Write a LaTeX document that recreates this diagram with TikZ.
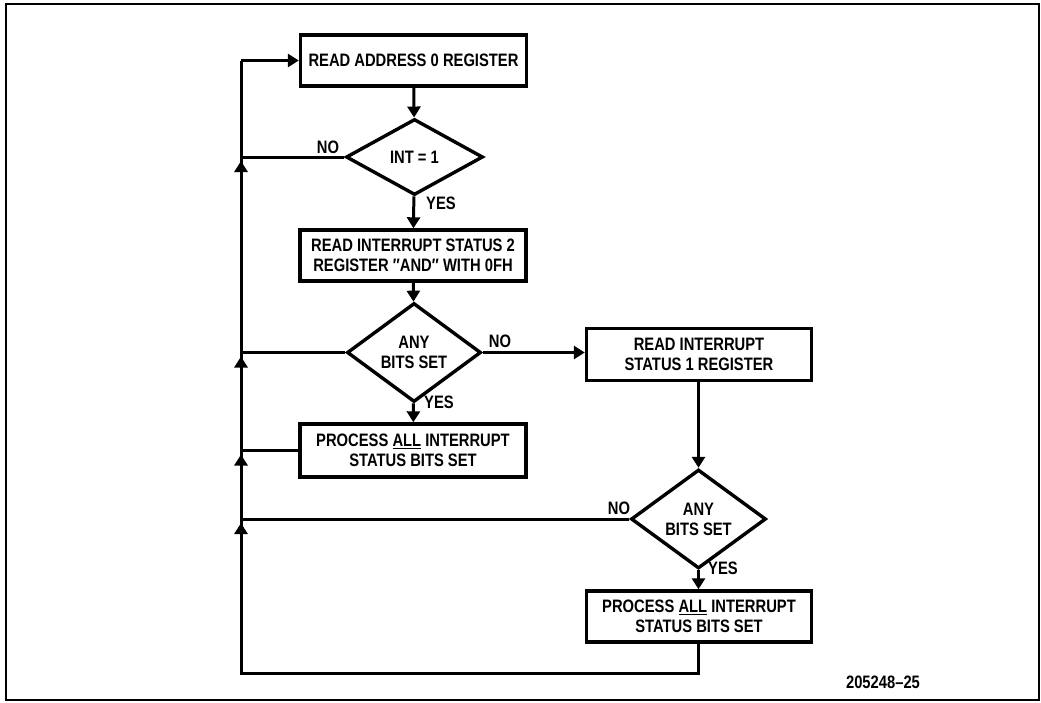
\documentclass[tikz,border=0pt]{standalone}
\usepackage{fontspec}
\setmainfont{Liberation Sans}[FakeStretch=0.82]
\usetikzlibrary{shapes.geometric,arrows.meta}
\begin{document}
\begin{tikzpicture}[x=1pt,y=-1pt,
  font=\fontsize{18}{20}\selectfont\bfseries,
  procbox/.style={draw, line width=3.4pt, rectangle, inner sep=0pt, align=center},
  decide/.style={draw, line width=3.4pt, diamond, inner sep=0pt, align=center},
  flow/.style={line width=3pt},
  arr/.style={flow, -{Triangle[length=11pt,width=13pt]}},
  lbl/.style={inner sep=0pt}]
\useasboundingbox (0,0) rectangle (1041,702);
\draw[line width=1.4pt] (6,4) rectangle (1039,700);

% nodes
\node[procbox, minimum width=226pt, minimum height=51pt] (b1) at (413.5,60.5) {READ ADDRESS 0 REGISTER};
\node[decide, minimum width=137pt, minimum height=76pt] (d1) at (414.5,157) {INT = 1};
\node[procbox, minimum width=226pt, minimum height=51pt] (b2) at (413,255.5) {READ INTERRUPT STATUS 2\\REGISTER ″AND″ WITH 0FH};
\node[decide, minimum width=134pt, minimum height=77pt] (d2) at (414,352.5) {ANY\\BITS SET};
\node[procbox, minimum width=226pt, minimum height=53pt] (b4) at (413,450.5) {PROCESS \underline{ALL} INTERRUPT\\STATUS BITS SET};
\node[procbox, minimum width=225pt, minimum height=52pt] (b3) at (699,354.5) {READ INTERRUPT\\STATUS 1 REGISTER};
\node[decide, minimum width=135pt, minimum height=76pt] (d3) at (698.5,519) {ANY\\BITS SET};
\node[procbox, minimum width=225pt, minimum height=51pt] (b5) at (699,616.5) {PROCESS \underline{ALL} INTERRUPT\\STATUS BITS SET};

% return line coordinates
\coordinate (Lb) at (241,673);
\coordinate (Ltop) at (Lb |- b1.west);
\coordinate (L1) at (Lb |- d1.west);
\coordinate (L2) at (Lb |- d2.west);
\coordinate (L3) at (Lb |- b4.west);
\coordinate (L4) at (Lb |- d3.west);

% connectors
\draw[arr] (b1) -- (d1);
\draw[arr] (d1) -- (b2);
\draw[arr] (b2) -- (d2);
\draw[arr] (d2) -- (b4);
\draw[arr] (d2.east) -- (d2.east -| b3.west);
\draw[arr] (d3.north |- b3.south) -- (d3.north);
\draw[arr] (d3.south) -- (d3.south |- b5.north);
\draw[flow] (d1.west) -- (L1);
\draw[flow] (d2.west) -- (L2);
\draw[flow] (b4.west) -- (L3);
\draw[flow] (d3.west) -- (L4);
\draw[flow, line join=miter] (d3.south |- b5.south) -- (d3.south |- Lb) -- (Lb) -- (Ltop);
\draw[arr, line join=miter] (Ltop) -- (b1.west);
\draw[arr, shorten >=4pt] (Lb) -- (L4);
\draw[arr, shorten >=4pt] (L4) -- (L3);
\draw[arr, shorten >=4pt] (L3) -- (L2);
\draw[arr, shorten >=4pt] (L2) -- (L1);

% labels
\node[lbl] (no1) at (328,147) {NO};
\node[lbl] (yes1) at (441,203) {YES};
\node[lbl] (no2) at (500,341) {NO};
\node[lbl] (yes2) at (439,402) {YES};
\node[lbl] (no3) at (619,508) {NO};
\node[lbl] (yes3) at (723,568) {YES};
\node[lbl] (fig) at (883,682) {205248–25};
\end{tikzpicture}
\end{document}
